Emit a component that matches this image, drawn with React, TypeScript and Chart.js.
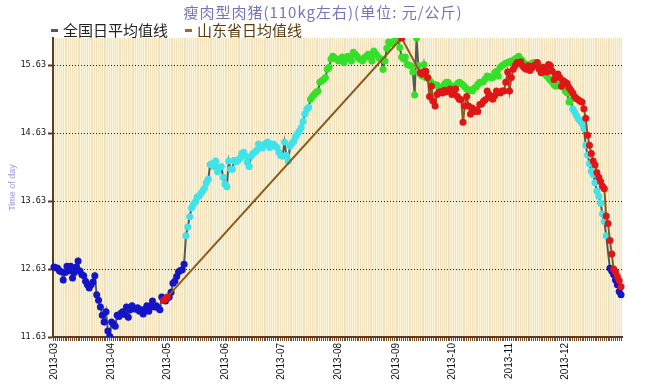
import React, { useEffect, useRef } from "react";
import { Chart, registerables } from "chart.js";

Chart.register(...registerables);

// ---------- categories ----------
const months = ["2013-03", "2013-04", "2013-05", "2013-06", "2013-07", "2013-08", "2013-09", "2013-10", "2013-11", "2013-12"];
const monthDays = [31, 30, 31, 30, 31, 31, 30, 31, 30, 31];
const categories: string[] = months.flatMap((m, i) =>
  Array.from({ length: monthDays[i] }, (_, d) => `${m}-${String(d + 1).padStart(2, "0")}`)
);

const yTickValues = [11.63, 12.63, 13.63, 14.63, 15.63];
const yMin = 11.63;
const yMax = 16.03;

const titleText = "瘦肉型肉猪(110kg左右)(单位: 元/公斤)";
const seriesNames = ["全国日平均值线", "山东省日均值线"];
const yAxisTitle = "Time of day";

// ---------- 全国日平均值 (national daily average) ----------
const natMar = [12.66, 12.65, 12.64, 12.60, 12.59, 12.47, 12.58, 12.67, 12.60, 12.67, 12.50, 12.58, 12.66, 12.75, 12.60, 12.55, 12.53, 12.45, 12.40, 12.35, 12.40, 12.44, 12.53, 12.25, 12.17, 12.07, 11.95, 11.85, 12.00, 11.72, 11.64];
const natApr = [11.85, 11.82, 11.79, 11.95, 11.93, 11.98, 12.00, 11.96, 12.07, 11.92, 12.03, 12.09, 12.05, 12.04, 12.06, 12.01, 12.03, 11.97, 12.04, 12.09, 12.01, 12.08, 12.16, 12.07, 12.09, 12.06, 12.03, 12.22, 12.17, 12.16];
const natMay = [12.20, 12.22, 12.29, 12.42, 12.45, 12.52, 12.59, 12.61, 12.62, 12.70, 13.12, 13.25, 13.40, 13.53, 13.58, 13.62, 13.69, 13.70, 13.74, 13.78, 13.82, 13.90, 13.95, 14.17, 14.18, 14.14, 14.22, 14.06, 14.12, 14.14, 13.98];
const natJun = [13.88, 13.84, 14.22, 14.10, 14.10, 14.23, 14.21, 14.23, 14.26, 14.33, 14.35, 14.29, 14.20, 14.14, 14.29, 14.33, 14.35, 14.38, 14.47, 14.44, 14.41, 14.46, 14.48, 14.50, 14.42, 14.45, 14.47, 14.44, 14.42, 14.35];
const natJul = [14.30, 14.29, 14.50, 14.30, 14.22, 14.44, 14.48, 14.51, 14.58, 14.62, 14.66, 14.71, 14.80, 14.91, 14.98, 15.01, 15.13, 15.17, 15.20, 15.23, 15.25, 15.38, 15.40, 15.42, 15.45, 15.57, 15.60, 15.72, 15.76, 15.74, 15.72];
const natAug = [15.69, 15.70, 15.75, 15.67, 15.72, 15.76, 15.73, 15.69, 15.82, 15.79, 15.76, 15.73, 15.71, 15.69, 15.74, 15.76, 15.79, 15.75, 15.69, 15.84, 15.80, 15.76, 15.73, 15.72, 15.57, 15.69, 15.88, 15.97, 15.94, 15.97, 15.98];
const natSep = [16.01, 16.00, 15.89, 15.75, 15.72, 15.75, 15.64, 15.63, 15.62, 15.53, 15.19, 16.03, 15.62, 15.50, 15.47, 15.64, 15.45, 15.44, 15.41, 15.37, 15.35, 15.34, 15.34, 15.30, 15.25, 15.30, 15.35, 15.38, 15.38, 15.34];
const natOct = [15.32, 15.32, 15.32, 15.36, 15.38, 15.36, 15.34, 15.31, 15.28, 15.27, 15.26, 15.25, 15.29, 15.31, 15.35, 15.38, 15.38, 15.39, 15.43, 15.47, 15.46, 15.45, 15.45, 15.52, 15.54, 15.47, 15.60, 15.62, 15.64, 15.66, 15.67];
const natNov = [15.68, 15.69, 15.70, 15.72, 15.74, 15.76, 15.72, 15.69, 15.66, 15.64, 15.62, 15.63, 15.66, 15.67, 15.66, 15.65, 15.62, 15.57, 15.53, 15.50, 15.47, 15.44, 15.41, 15.38, 15.34, 15.32, 15.35, 15.34, 15.32, 15.31];
const natDec = [15.25, 15.22, 15.09, 15.12, 14.99, 14.94, 14.89, 14.84, 14.81, 14.77, 14.70, 14.45, 14.31, 14.18, 14.07, 14.02, 13.90, 13.78, 13.70, 13.60, 13.44, 13.33, 13.12, null, 12.64, 12.60, 12.55, 12.47, 12.40, 12.30, 12.25];

// ---------- 山东省日均值 (Shandong daily average) ----------
const N = null;
const sdMar = new Array(31).fill(N);
const sdApr = [N, N, N, N, N, N, N, N, N, N, N, N, N, N, N, N, N, N, N, N, N, N, N, N, N, N, N, N, 12.17, 12.19];
const sdMay = [12.22, N, N, N, N, N, N, N, N, N, N, N, N, N, N, N, N, N, N, N, N, N, N, N, N, N, N, N, N, N, N];
const sdJun = new Array(30).fill(N);
const sdJul = new Array(31).fill(N);
const sdAug = new Array(31).fill(N);
const sdSep = [N, N, N, 16.03, N, N, N, N, N, N, N, N, N, 15.52, 15.50, 15.53, 15.54, 15.45, 15.17, 15.32, 15.10, 15.03, 15.20, 15.23, 15.24, 15.22, 15.26, 15.24, 15.25, 15.28];
const sdOct = [15.20, 15.22, 15.28, 15.17, 15.13, 15.12, 14.79, 15.03, 15.17, 15.03, 14.91, 15.00, 14.95, 14.97, 14.95, 15.05, 15.06, 15.10, 15.12, 15.25, 15.20, 15.15, 15.13, 15.18, 15.25, 15.23, 15.22, 15.25, 15.25, 15.38, 15.53];
const sdNov = [15.25, 15.45, 15.57, 15.62, 15.67, 15.66, 15.68, 15.62, 15.59, 15.57, 15.62, 15.55, 15.59, 15.62, 15.64, 15.67, 15.57, 15.52, 15.60, 15.55, 15.53, 15.64, 15.62, 15.54, 15.42, 15.47, 15.50, 15.45, 15.32, 15.40];
const sdDec = [15.38, 15.36, 15.30, 15.26, 15.22, 15.17, 15.14, 15.12, 15.10, 15.09, 14.99, 14.85, 14.60, 14.45, 14.33, 14.22, 14.16, 14.05, 13.98, 13.92, 13.85, 13.81, 13.41, 13.30, 13.05, 12.85, 12.63, 12.59, 12.52, 12.46, 12.37];

const national = [...natMar, ...natApr, ...natMay, ...natJun, ...natJul, ...natAug, ...natSep, ...natOct, ...natNov, ...natDec];
const shandong = [...sdMar, ...sdApr, ...sdMay, ...sdJun, ...sdJul, ...sdAug, ...sdSep, ...sdOct, ...sdNov, ...sdDec];

// ---------- colors ----------
const BLUE = "#1414c8";
const CYAN = "#3fe3ea";
const GREEN = "#34e028";
const RED = "#e01616";
const NAT_LINE = "#525a5a";
const SD_LINE = "#8b5a1c";
const PLOT_BG = "#fdf5dc";
const STRIPE = "#efe2bd";
const AXIS_BROWN = "#5e3a1e";

const natPointColor = (v: number | null) =>
  v == null ? BLUE : v < 12.8 ? BLUE : v < 15.05 ? CYAN : GREEN;

const decorPlugin = {
  id: "decor",
  beforeDraw(chart: any) {
    const { ctx, chartArea } = chart;
    ctx.save();
    ctx.fillStyle = PLOT_BG;
    ctx.fillRect(chartArea.left, chartArea.top, chartArea.right - chartArea.left, chartArea.bottom - chartArea.top);
    ctx.restore();
  },
  afterDraw(chart: any) {
    const { ctx } = chart;
    ctx.save();
    // title
    ctx.font = "15px 'Noto Sans CJK SC'";
    try {
      (ctx as any).letterSpacing = "1px";
    } catch (e) {}
    ctx.fillStyle = "#7474bc";
    ctx.textAlign = "center";
    ctx.textBaseline = "middle";
    ctx.fillText(titleText, 323, 12);
    try {
      (ctx as any).letterSpacing = "0px";
    } catch (e) {}
    // legend
    ctx.font = "15px 'Noto Sans CJK SC'";
    ctx.textAlign = "left";
    const items = [
      { x: 51, color: NAT_LINE, text: "#222222" },
      { x: 185, color: "#9c6a2c", text: "#5a3a08" },
    ];
    items.forEach((it, i) => {
      ctx.fillStyle = it.color;
      ctx.fillRect(it.x, 29, 7, 3);
      ctx.fillStyle = it.text;
      ctx.fillText(seriesNames[i], it.x + 12, 30);
    });
    ctx.restore();
  },
};

export default function App() {
  const ref = useRef<HTMLCanvasElement | null>(null);
  useEffect(() => {
    if (!ref.current) return;
    const chart = new Chart(ref.current, {
      type: "line",
      data: {
        labels: categories,
        datasets: [
          {
            label: seriesNames[0],
            data: national,
            borderColor: NAT_LINE,
            borderWidth: 2,
            pointRadius: 3.5,
            pointBorderWidth: 0,
            pointBackgroundColor: (c: any) => natPointColor(c.raw),
            spanGaps: true,
            tension: 0,
            order: 2,
          },
          {
            label: seriesNames[1],
            data: shandong,
            borderColor: SD_LINE,
            borderWidth: 2,
            pointRadius: 3.5,
            pointBorderWidth: 0,
            pointBackgroundColor: RED,
            spanGaps: true,
            tension: 0,
            order: 1,
          },
        ],
      },
      options: {
        animation: false,
        responsive: false,
        maintainAspectRatio: false,
        layout: { padding: { top: 38, right: 26, left: 0, bottom: 0 } },
        plugins: {
          legend: { display: false },
          title: { display: false },
          tooltip: { enabled: false },
        },
        scales: {
          x: {
            type: "category",
            offset: true,
            grid: {
              display: true,
              color: STRIPE,
              lineWidth: 1,
              offset: false,
              drawOnChartArea: true,
              tickColor: "#7a4a24",
              tickLength: 4,
              tickWidth: 1,
            },
            border: { display: true, color: AXIS_BROWN, width: 2 },
            ticks: {
              autoSkip: false,
              minRotation: 90,
              maxRotation: 90,
              padding: 2,
              color: "#111",
              font: { family: "'Liberation Sans'", size: 10 },
              callback: (_v: any, i: number) => (categories[i].endsWith("-01") ? categories[i].slice(0, 7) : ""),
            },
            afterFit: (s: any) => {
              s.height = 48;
            },
          },
          y: {
            min: yMin,
            max: yMax,
            afterBuildTicks: (s: any) => {
              s.ticks = yTickValues.map((v) => ({ value: v }));
            },
            grid: {
              color: "#222",
              lineWidth: 1,
              tickColor: AXIS_BROWN,
              tickLength: 5,
              tickWidth: 2,
            },
            border: { display: true, color: AXIS_BROWN, width: 2, dash: [1, 2] },
            ticks: {
              padding: 2,
              color: "#111",
              font: { family: "'DejaVu Sans Mono'", size: 8.5 },
              callback: (v: any) => Number(v).toFixed(2),
            },
            title: {
              display: true,
              text: yAxisTitle,
              color: "#9a9ae0",
              font: { family: "'Liberation Sans'", size: 9 },
              padding: { top: 7, bottom: 0 },
            },
            afterFit: (s: any) => {
              s.width = 53;
            },
          },
        },
      },
      plugins: [decorPlugin],
    } as any);
    return () => chart.destroy();
  }, []);

  return (
    <div style={{ position: "fixed", left: 0, top: 0, width: 648, height: 385, background: "#fff" }}>
      <canvas ref={ref} width={648} height={385} style={{ display: "block", width: 648, height: 385 }} />
    </div>
  );
}
